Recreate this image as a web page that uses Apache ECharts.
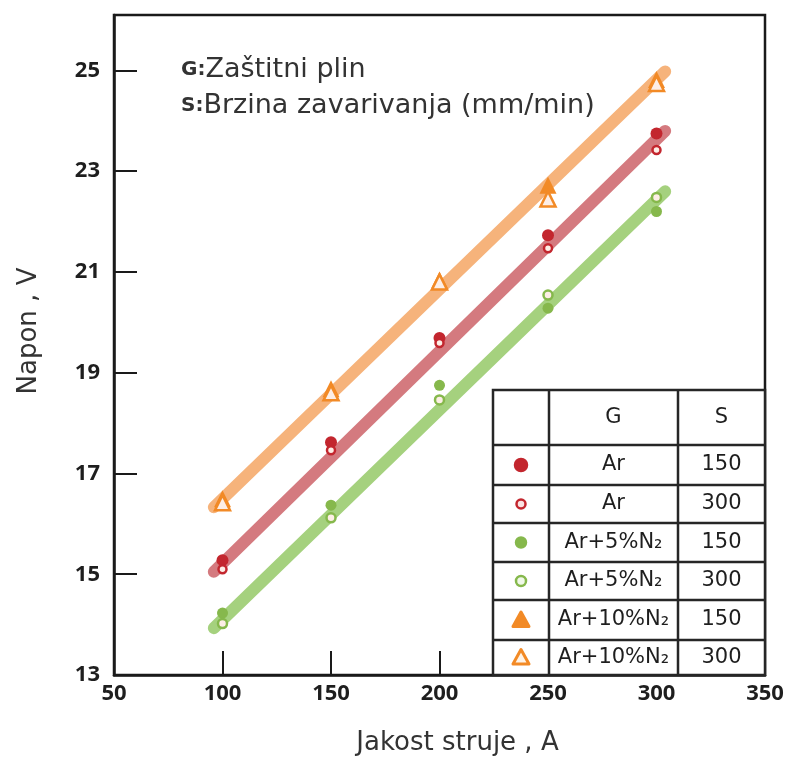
<!DOCTYPE html>
<html>
<head>
<meta charset="utf-8">
<script src="https://cdn.jsdelivr.net/npm/echarts@6/dist/echarts.min.js"></script>
<style>
html,body{margin:0;padding:0;background:#fff;}
#main{width:790px;height:762px;}
</style>
</head>
<body>
<div id="main"></div>
<script>
// ---- data ----
const current = [100, 150, 200, 250, 300];            // Jakost struje, A
const ar150 = [15.28, 17.62, 19.69, 21.73, 23.75];
const ar300 = [15.10, 17.46, 19.59, 21.47, 23.42];
const n5_150 = [14.23, 16.37, 18.75, 20.28, 22.20];
const n5_300 = [14.02, 16.12, 18.46, 20.54, 22.48];
const n10_150 = [16.50, 18.68, 20.84, 22.72, 24.82];
const n10_300 = [16.42, 18.60, 20.80, 22.45, 24.74];
const trendX = [96, 304];
const trendAr = [15.05, 23.80];
const trendN5 = [13.93, 22.60];
const trendN10 = [16.33, 24.98];
const xTicks = [50, 100, 150, 200, 250, 300, 350];
const yTicks = [13, 15, 17, 19, 21, 23, 25];
const gases = ['Ar', 'Ar', 'Ar+5%N₂', 'Ar+5%N₂', 'Ar+10%N₂', 'Ar+10%N₂'];
const speeds = ['150', '300', '150', '300', '150', '300'];
const noteG = ['G:', 'Zaštitni plin'];
const noteS = ['S:', 'Brzina zavarivanja (mm/min)'];

const RED = '#c3262e', GREEN = '#86b84c', ORANGE = '#f28a26';
const RED_T = 'rgba(196,70,78,0.72)', GREEN_T = 'rgba(140,196,90,0.78)', ORANGE_T = 'rgba(244,160,90,0.8)';

function pts(ys) { return current.map((x, i) => [x, ys[i]]); }
function tr(ys) { return trendX.map((x, i) => [x, ys[i]]); }

const chart = echarts.init(document.getElementById('main'));
const FONT = 'DejaVu Sans';
const TICKFONT = 'Open Sans';
const ink = '#1e1e1e';

// legend table graphic
const tL = 493, tR = 765, c1 = 549, c2 = 678;
const rowsY = [390, 445, 485, 523, 562, 600, 640, 675];
const gfx = [];
const lineStyle = { stroke: '#262626', lineWidth: 2.5 };
gfx.push({ type: 'rect', shape: { x: tL, y: rowsY[0], width: tR - tL, height: rowsY[7] - rowsY[0] }, style: { fill: '#fff', stroke: '#262626', lineWidth: 2.5 }, z: 50 });
for (let i = 1; i < 7; i++) gfx.push({ type: 'line', shape: { x1: tL, y1: rowsY[i], x2: tR, y2: rowsY[i] }, style: lineStyle, z: 51 });
[c1, c2].forEach(x => gfx.push({ type: 'line', shape: { x1: x, y1: rowsY[0], x2: x, y2: rowsY[7] }, style: lineStyle, z: 51 }));
const txt = (t, x, y) => ({ type: 'text', x: x, y: y, style: { text: t, fill: ink, font: '21px "DejaVu Sans"', align: 'center', verticalAlign: 'middle' }, z: 52 });
gfx.push(txt('G', (c1 + c2) / 2, (rowsY[0] + rowsY[1]) / 2));
gfx.push(txt('S', (c2 + tR) / 2, (rowsY[0] + rowsY[1]) / 2));
const legSym = [
  { shape: 'circle', r: 6, fill: RED, stroke: RED },
  { shape: 'circle', r: 4.5, fill: '#fbe3e3', stroke: RED },
  { shape: 'circle', r: 5, fill: GREEN, stroke: GREEN },
  { shape: 'circle', r: 5, fill: '#f0f8e8', stroke: GREEN },
  { shape: 'tri', r: 8, fill: ORANGE, stroke: ORANGE },
  { shape: 'tri', r: 8, fill: '#fff3e6', stroke: ORANGE }
];
for (let i = 0; i < 6; i++) {
  const cy = (rowsY[i + 1] + rowsY[i + 2]) / 2;
  gfx.push(txt(gases[i], (c1 + c2) / 2, cy));
  gfx.push(txt(speeds[i], (c2 + tR) / 2, cy));
  const s = legSym[i], cx = (tL + c1) / 2;
  if (s.shape === 'circle') {
    gfx.push({ type: 'circle', shape: { cx: cx, cy: cy, r: s.r }, style: { fill: s.fill, stroke: s.stroke, lineWidth: 2.5 }, z: 52 });
  } else {
    gfx.push({ type: 'polygon', shape: { points: [[cx, cy - s.r], [cx + s.r, cy + s.r * 0.8], [cx - s.r, cy + s.r * 0.8]] }, style: { fill: s.fill, stroke: s.stroke, lineWidth: 3, lineJoin: 'round' }, z: 52 });
  }
}
// annotations
const rich = { b: { fontFamily: FONT, fontWeight: 'bold', fontSize: 20, fill: '#333' }, n: { fontFamily: FONT, fontSize: 27, fill: '#333' } };
gfx.push({ type: 'text', x: 181, y: 70, style: { text: '{b|' + noteG[0] + '}{n|' + noteG[1] + '}', rich: rich, verticalAlign: 'middle' }, z: 52 });
gfx.push({ type: 'text', x: 181, y: 106, style: { text: '{b|' + noteS[0] + '}{n|' + noteS[1] + '}', rich: rich, verticalAlign: 'middle' }, z: 52 });

function scatter(name, data, symbol, size, color, hollow) {
  return {
    name: name, type: 'scatter', data: pts(data), symbol: symbol, symbolSize: size, z: 5,
    itemStyle: hollow ? { color: '#fdeee6', borderColor: color, borderWidth: 2.5, opacity: 1 } : { color: color, opacity: 1 }
  };
}
function trend(data, color) {
  return { type: 'line', data: tr(data), symbol: 'none', lineStyle: { color: color, width: 12, cap: 'round' }, z: 2, silent: true };
}

chart.setOption({
  animation: false,
  backgroundColor: '#fff',
  grid: { left: 114, right: 25, top: 15, bottom: 87, show: true, borderColor: '#1a1a1a', borderWidth: 2.5, backgroundColor: 'transparent' },
  xAxis: {
    type: 'value', min: 50, max: 350, interval: 50,
    name: 'Jakost struje , A', nameLocation: 'middle', nameGap: 55,
    nameTextStyle: { fontFamily: FONT, fontSize: 26, color: '#333', padding: [0, 0, 0, 36] },
    axisLine: { show: true, lineStyle: { color: '#1a1a1a', width: 2.5 } },
    axisTick: { show: true, inside: true, length: 24, lineStyle: { color: '#1a1a1a', width: 2 }, customValues: xTicks },
    axisLabel: { customValues: xTicks, fontFamily: TICKFONT, fontWeight: 'bold', fontSize: 22, color: ink, margin: 8 },
    splitLine: { show: false }
  },
  yAxis: {
    type: 'value', min: 13, max: 26.1,
    name: 'Napon , V', nameLocation: 'middle', nameGap: 72,
    nameTextStyle: { fontFamily: FONT, fontSize: 26, color: '#333', padding: [0, 0, 0, 28] },
    axisLine: { show: true, lineStyle: { color: '#1a1a1a', width: 2.5 } },
    axisTick: { show: true, inside: true, length: 23, lineStyle: { color: '#1a1a1a', width: 2 }, customValues: yTicks },
    axisLabel: { customValues: yTicks, fontFamily: TICKFONT, fontWeight: 'bold', fontSize: 22, color: ink, margin: 14 },
    splitLine: { show: false }
  },
  series: [
    trend(trendN10, ORANGE_T),
    trend(trendAr, RED_T),
    trend(trendN5, GREEN_T),
    scatter('Ar 150', ar150, 'circle', 12, RED, false),
    scatter('Ar 300', ar300, 'circle', 8, RED, true),
    scatter('Ar+5%N2 150', n5_150, 'circle', 11, GREEN, false),
    scatter('Ar+5%N2 300', n5_300, 'circle', 9, GREEN, true),
    scatter('Ar+10%N2 150', n10_150, 'triangle', 17, ORANGE, false),
    scatter('Ar+10%N2 300', n10_300, 'triangle', 15, ORANGE, true)
  ],
  graphic: gfx
});
</script>
</body>
</html>
